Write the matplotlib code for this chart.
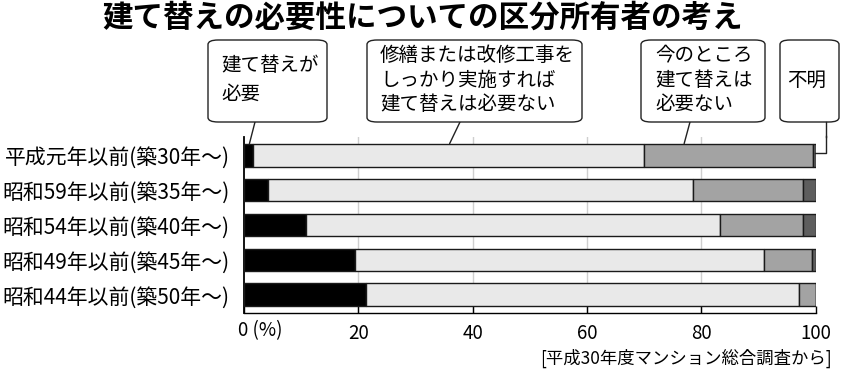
import numpy as np
import matplotlib
matplotlib.use("Agg")
from matplotlib import pyplot as plt
from matplotlib.patches import FancyBboxPatch

plt.rcParams['font.family'] = ['Noto Sans CJK JP', 'DejaVu Sans']

# data (%)
groups = ['平成元年以前(築30年～)', '昭和59年以前(築35年～)', '昭和54年以前(築40年～)',
          '昭和49年以前(築45年～)', '昭和44年以前(築50年～)']
need = [1.6, 4.2, 10.9, 19.5, 21.3]
repair = [68.3, 74.4, 72.4, 71.5, 75.7]
not_now = [29.7, 19.1, 14.5, 8.3, 3.0]
unknown = [0.4, 2.3, 2.2, 0.7, 0.0]
series = [need, repair, not_now, unknown]
colors = ['#000000', '#e9e9e9', '#a3a3a3', '#5e5e5e']
box_texts = ['建て替えが\n必要', '修繕または改修工事を\nしっかり実施すれば\n建て替えは必要ない',
             '今のところ\n建て替えは\n必要ない', '不明']

W, H = 846, 375
fig = plt.figure(figsize=(W / 100, H / 100), dpi=100)

def fx(px):
    return px / W

def fy(py):
    return 1 - py / H

ax = fig.add_axes([fx(243.7), fy(313), fx(815.7) - fx(243.7), fy(137) - fy(313)])

y = np.arange(len(groups))
left = np.zeros(len(groups))
for vals, c in zip(series, colors):
    ax.barh(y, vals, left=left, height=0.65, color=c, edgecolor='#1a1a1a', linewidth=1.0, zorder=3)
    left += np.array(vals)

ax.set_xlim(0, 100)
ax.set_ylim(4.52, -0.52)
ax.set_yticks(y)
ax.set_yticklabels(groups, fontsize=15)
ax.tick_params(axis='y', length=0, pad=10)
ax.set_xticks([0, 20, 40, 60, 80, 100])
ax.set_xticklabels(['', '20', '40', '60', '80', '100'], fontsize=13.5)
ax.tick_params(axis='x', direction='in', length=5, width=1, pad=7)
for gx in [20, 40, 60, 80]:
    ax.axvline(gx, color='#cfcfcf', linewidth=1, zorder=1)
for s in ['top', 'right']:
    ax.spines[s].set_visible(False)
ax.spines['left'].set_linewidth(1.3)
ax.spines['bottom'].set_linewidth(1.0)
fig.text(fx(238), fy(331), '0 (%)', fontsize=13.5, ha='left', va='center')

fig.text(0.5, fy(18), '建て替えの必要性についての区分所有者の考え', ha='center', va='center',
         fontsize=22, fontweight='bold')
fig.text(fx(832), fy(358), '[平成30年度マンション総合調査から]', ha='right', va='center', fontsize=12.5)

# callout boxes
boxes = [(208, 327), (367, 582), (641, 765), (780, 839)]
text_x = [221, 380, 655, 787]
spacing = [1.45, 1.2, 1.2, 1.2]
for (x0, x1), tx, ls, t in zip(boxes, text_x, spacing, box_texts):
    p = FancyBboxPatch((fx(x0), fy(122)), fx(x1) - fx(x0), fy(40) - fy(122),
                       boxstyle='round,pad=0,rounding_size=0.012', transform=fig.transFigure,
                       facecolor='white', edgecolor='#222222', linewidth=1.0)
    fig.patches.append(p)
    fig.text(fx(tx), fy(80), t, ha='left', va='center', fontsize=14, linespacing=ls)

# leader lines
leaders = [((255, 122), (1.0, -0.33)), ((460, 122), (36, -0.33)), ((690, 122), (77, -0.33))]
for (px, py), (dx, dy) in leaders:
    ax.annotate('', xy=(dx, dy), xycoords='data', xytext=(fx(px), fy(py)),
                textcoords='figure fraction', arrowprops=dict(arrowstyle='-', lw=1, color='#222222',
                                                              shrinkA=0, shrinkB=0))
ax.plot([99.8, 101.8, 101.8], [-0.05, -0.05, -0.55], color='#222222', lw=1, clip_on=False, zorder=4)
fig.add_artist(plt.Line2D([fx(826), fx(826)], [fy(122), fy(137)], color='#222222', lw=1))

fig.savefig('out.png', dpi=100)
